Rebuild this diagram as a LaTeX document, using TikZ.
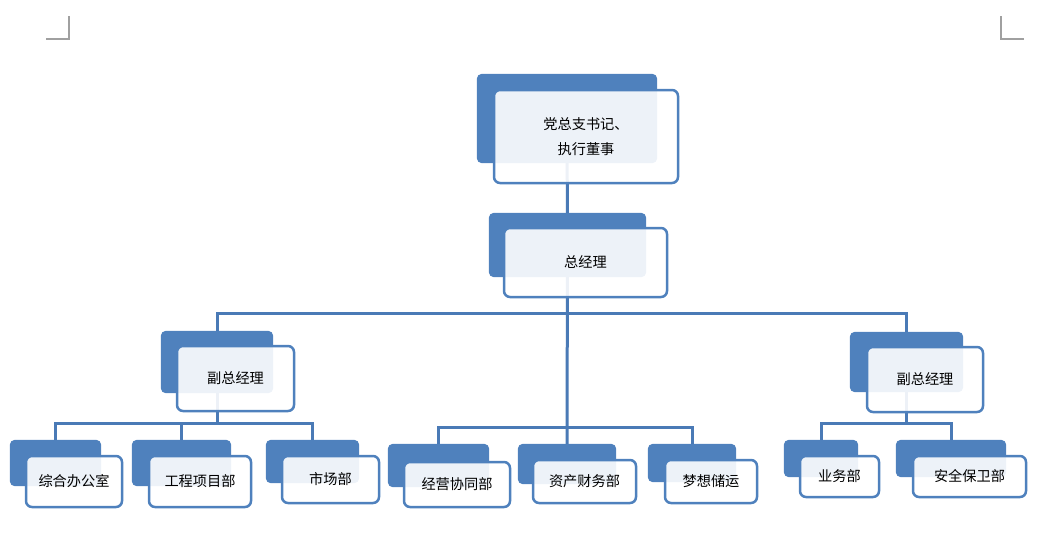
\documentclass[tikz,border=0pt]{standalone}
\usepackage{fontspec}
\newfontfamily\cjk{Noto Sans CJK SC}
\definecolor{boxblue}{HTML}{4F81BD}
\definecolor{linkblue}{HTML}{4A7AB6}
\definecolor{markgray}{HTML}{A0A0A0}
\begin{document}
\begin{tikzpicture}[x=1pt,y=-1pt,
  backbox/.style={rectangle,inner sep=0pt},
  frontbox/.style={rectangle,rounded corners=6pt,fill=white,fill opacity=0.9,text opacity=1,
    draw=boxblue,draw opacity=1,line width=2.5pt,inner sep=0pt,align=center,
    font=\cjk\fontsize{14.2}{25}\selectfont},
  conn/.style={draw=linkblue,line width=3pt},
  backfill/.style={fill=boxblue,rounded corners=5pt},
  cropmark/.style={draw=markgray,line width=1.2pt}]
\useasboundingbox (0,0) rectangle (1060,535);
% crop marks
\coordinate (tl1) at (46,39); \coordinate (tl2) at (69,39); \coordinate (tl3) at (69,16);
\coordinate (tr1) at (1024,39); \coordinate (tr2) at (1001,39); \coordinate (tr3) at (1001,16);
\draw[cropmark] (tl1) -- (tl2) -- (tl3);
\draw[cropmark] (tr1) -- (tr2) -- (tr3);
% back boxes (positions)
\node[backbox,minimum width=180pt,minimum height=89pt] (topb) at (567,118.5) {};
\node[backbox,minimum width=157pt,minimum height=64pt] (gmb) at (567.5,245) {};
\node[backbox,minimum width=112pt,minimum height=62pt] (vplb) at (217,362) {};
\node[backbox,minimum width=113pt,minimum height=60pt] (vprb) at (906.5,362) {};
\node[backbox,minimum width=91pt,minimum height=46pt] (c1b) at (55.5,463) {};
\node[backbox,minimum width=99pt,minimum height=46pt] (c2b) at (181.5,463) {};
\node[backbox,minimum width=93pt,minimum height=43pt] (c3b) at (312.5,461.5) {};
\node[backbox,minimum width=101pt,minimum height=43pt] (m1b) at (438.5,465.5) {};
\node[backbox,minimum width=98pt,minimum height=40pt] (m2b) at (567,464) {};
\node[backbox,minimum width=88pt,minimum height=38pt] (m3b) at (692,463) {};
\node[backbox,minimum width=74pt,minimum height=37pt] (r1b) at (821,458.5) {};
\node[backbox,minimum width=110pt,minimum height=37pt] (r2b) at (951,458.5) {};
% bus coordinates
\coordinate (bus1) at (567,313);
\coordinate (busl) at (217,423);
\coordinate (busm) at (567,427);
\coordinate (busr) at (906.5,423);
% connectors (behind boxes)
\path[conn] (topb.center) -- (gmb.center);
\path[conn] (gmb.center) -- (m2b.north);
\path[conn] (vplb.north) |- (bus1) -| (vprb.north);
\path[conn] (vplb.center) -- (busl);
\path[conn] (c1b.north) |- (busl) -| (c3b.north);
\path[conn] (busl) -| (c2b.north);
\path[conn] (m1b.north) |- (busm) -| (m3b.north);
\path[conn] (vprb.center) -- (busr);
\path[conn] (r1b.north) |- (busr) -| (r2b.north);
% back box fills over connectors
\foreach \n in {topb,gmb,vplb,vprb,c1b,c2b,c3b,m1b,m2b,m3b,r1b,r2b}{
  \path[backfill] (\n.north west) rectangle (\n.south east);
}
% front boxes
\node[frontbox,minimum width=184pt,minimum height=93pt] (topf) at (586,136.5) {党总支书记、\\执行董事};
\node[frontbox,minimum width=163pt,minimum height=69pt] (gmf) at (585.5,262.5) {总经理};
\node[frontbox,minimum width=117pt,minimum height=65pt] (vplf) at (235.5,378.5) {副总经理};
\node[frontbox,minimum width=116pt,minimum height=65pt] (vprf) at (925,379.5) {副总经理};
\node[frontbox,minimum width=96pt,minimum height=51pt] (c1f) at (74,481.5) {综合办公室};
\node[frontbox,minimum width=102pt,minimum height=51pt] (c2f) at (200,481.5) {工程项目部};
\node[frontbox,minimum width=97pt,minimum height=47pt] (c3f) at (330.5,479.5) {市场部};
\node[frontbox,minimum width=106pt,minimum height=45pt] (m1f) at (457,484.5) {经营协同部};
\node[frontbox,minimum width=103pt,minimum height=43pt] (m2f) at (584.5,481.5) {资产财务部};
\node[frontbox,minimum width=92pt,minimum height=43pt] (m3f) at (711,481.5) {梦想储运};
\node[frontbox,minimum width=79pt,minimum height=41pt] (r1f) at (839.5,476.5) {业务部};
\node[frontbox,minimum width=113pt,minimum height=41pt] (r2f) at (969.5,476.5) {安全保卫部};
\end{tikzpicture}
\end{document}
